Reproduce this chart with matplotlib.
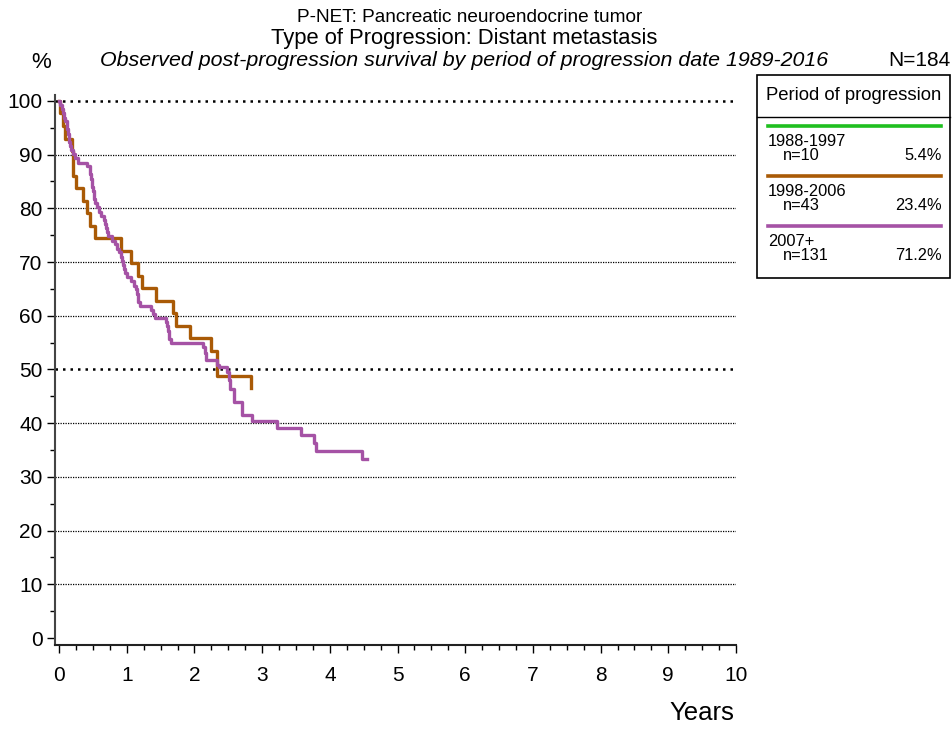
import matplotlib
matplotlib.use("Agg")
import matplotlib.pyplot as plt
from matplotlib.patches import Rectangle
from matplotlib.lines import Line2D

plt.rcParams['font.family'] = ['Liberation Sans', 'DejaVu Sans']

# survival steps (time in years, survival % after the event)
brown_t = [0.0, 0.01, 0.06, 0.09, 0.19, 0.20, 0.25, 0.35, 0.42, 0.46, 0.53,
           0.91, 1.07, 1.16, 1.22, 1.43, 1.69, 1.73, 1.94, 2.245, 2.33, 2.83]
brown_s = [100.0, 97.7, 95.3, 93.0, 90.7, 86.0, 83.7, 81.4, 79.1, 76.7, 74.4,
           72.1, 69.8, 67.4, 65.1, 62.8, 60.5, 58.1, 55.8, 53.5, 48.8, 46.5]

purple_t = [0.0, 0.02, 0.04, 0.06, 0.08, 0.09, 0.11, 0.12, 0.13, 0.14, 0.15,
            0.16, 0.17, 0.21, 0.24, 0.28, 0.41, 0.45, 0.46, 0.47, 0.48, 0.49,
            0.50, 0.51, 0.52, 0.53, 0.56, 0.59, 0.62, 0.66, 0.68, 0.70, 0.71,
            0.72, 0.78, 0.82, 0.85, 0.88, 0.91, 0.93, 0.94, 0.96, 0.98, 1.01,
            1.07, 1.10, 1.13, 1.15, 1.16, 1.17, 1.20, 1.36, 1.39, 1.41, 1.58,
            1.60, 1.61, 1.62, 1.63, 1.65, 2.13, 2.15, 2.17, 2.33, 2.37, 2.48,
            2.51, 2.53, 2.58, 2.70, 2.85, 3.22, 3.57, 3.76, 3.80, 4.47, 4.55]
purple_s = [100.0, 99.2, 98.5, 97.7, 96.9, 96.2, 95.4, 94.7, 93.9, 93.1, 92.4,
            91.6, 90.8, 90.1, 89.3, 88.5, 87.8, 87.0, 86.3, 85.5, 84.7, 84.0,
            83.2, 82.4, 81.7, 80.9, 80.2, 79.4, 78.6, 77.9, 77.1, 76.3, 75.6,
            74.8, 74.0, 73.3, 72.5, 71.8, 71.0, 70.2, 69.5, 68.7, 67.9, 67.2,
            66.4, 65.6, 64.9, 64.1, 63.4, 62.6, 61.8, 61.1, 60.3, 59.5, 58.8,
            58.0, 57.2, 56.5, 55.7, 55.0, 54.2, 53.0, 51.7, 50.9, 50.4, 49.6,
            48.1, 46.3, 44.0, 41.6, 40.4, 39.1, 37.8, 36.4, 34.9, 33.3, 33.3]

groups = ['1988-1997', '1998-2006', '2007+']
counts = ['n=10', 'n=43', 'n=131']
shares = ['5.4%', '23.4%', '71.2%']
colors = ['#1fbf1f', '#a95a06', '#a552a5']

fig = plt.figure(figsize=(9.52, 7.29), dpi=100)
ax = fig.add_axes([55 / 952, 1 - 645 / 729, 681 / 952, 550 / 729])

# grid
for v in range(10, 101, 10):
    heavy = v in (50, 100)
    ax.axhline(v, color='black', linestyle=(0, (1, 2)) if heavy else (0, (1, 1)),
               linewidth=1.8 if heavy else 0.9, zorder=1)

ax.step(brown_t, brown_s, where='post', color=colors[1], linewidth=2.4, zorder=3)
ax.step(purple_t, purple_s, where='post', color=colors[2], linewidth=2.4, zorder=4)

ax.set_xlim(-0.06, 10)
ax.set_ylim(-1.3, 101.1)
ax.set_xticks(range(0, 11))
ax.set_xticks([i * 0.25 for i in range(41)], minor=True)
ax.set_yticks(range(0, 101, 10))
ax.set_yticks(range(5, 100, 10), minor=True)
ax.tick_params(axis='both', which='major', labelsize=15, length=6, width=1)
ax.tick_params(axis='both', which='minor', length=3.5, width=1)
ax.tick_params(axis='x', pad=9)
ax.tick_params(axis='y', pad=3)
ax.spines['top'].set_visible(False)
ax.spines['right'].set_visible(False)
ax.spines['left'].set_color('#444444')
ax.spines['bottom'].set_color('#222222')
ax.spines['left'].set_linewidth(1.5)
ax.spines['bottom'].set_linewidth(1.5)

# titles
fig.text(470 / 952, 1 - 18 / 729, 'P-NET: Pancreatic neuroendocrine tumor', ha='center', va='center', fontsize=13.7)
fig.text(464 / 952, 1 - 38.5 / 729, 'Type of Progression: Distant metastasis', ha='center', va='center', fontsize=15.8)
fig.text(464 / 952, 1 - 60.5 / 729, 'Observed post-progression survival by period of progression date 1989-2016',
         ha='center', va='center', fontsize=15.4, style='italic')
fig.text(950 / 952, 1 - 60.5 / 729, 'N=184', ha='right', va='center', fontsize=15)
fig.text(41 / 952, 1 - 63 / 729, '%', ha='center', va='center', fontsize=16)
fig.text(702 / 952, 1 - 713 / 729, 'Years', ha='center', va='center', fontsize=18.5)

# legend box
W, H = 952, 729
fig.patches.append(Rectangle((757 / W, 1 - 278 / H), 193 / W, 203 / H, transform=fig.transFigure,
                             fill=False, edgecolor='black', linewidth=1.2))
fig.lines.append(Line2D([757 / W, 950 / W], [1 - 117 / H] * 2, transform=fig.transFigure,
                        color='black', linewidth=1))
fig.text(854 / W, 1 - 96 / H, 'Period of progression', ha='center', va='center', fontsize=13.3)
for i in range(3):
    y0 = 126 + 50 * i
    fig.lines.append(Line2D([768 / W, 941 / W], [1 - y0 / H] * 2, transform=fig.transFigure,
                            color=colors[i], linewidth=2.6))
    fig.text(768 / W, 1 - (y0 + 15) / H, groups[i], ha='left', va='center', fontsize=11.8)
    fig.text(783 / W, 1 - (y0 + 29.5) / H, counts[i], ha='left', va='center', fontsize=11.8)
    fig.text(942 / W, 1 - (y0 + 29.5) / H, shares[i], ha='right', va='center', fontsize=11.8)

fig.savefig('out.png', dpi=100)
